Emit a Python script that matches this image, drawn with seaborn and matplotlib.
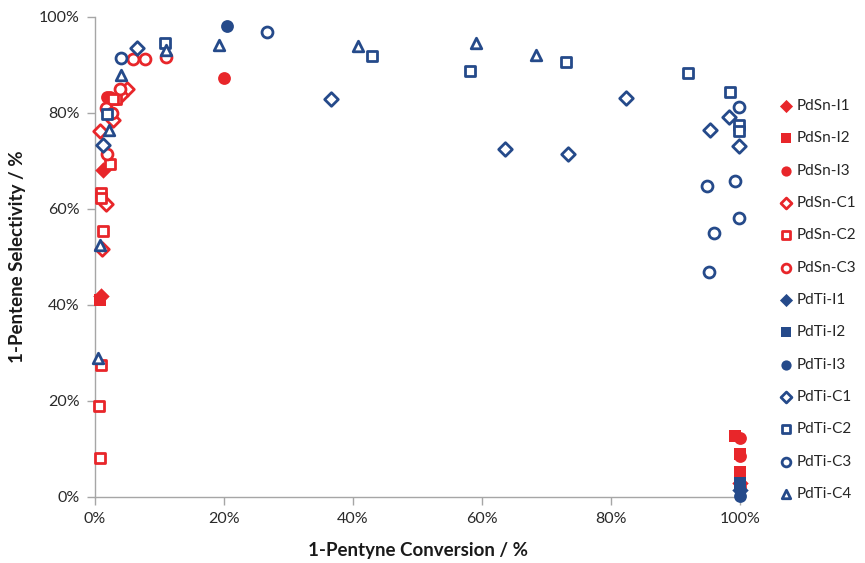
import numpy as np
import pandas as pd
import matplotlib
matplotlib.use("Agg")
import matplotlib.pyplot as plt
from matplotlib.ticker import PercentFormatter
import seaborn as sns

# conversion / selectivity (%)
pdsn_i1_x = [1.2, 1.0, 100.0]
pdsn_i1_y = [68.1, 41.8, 3.0]
pdsn_i2_x = [0.8, 99.3, 100.0, 100.0, 100.0]
pdsn_i2_y = [41.0, 12.8, 9.0, 5.2, 4.0]
pdsn_i3_x = [20.0, 1.8, 2.3, 100.0, 100.0, 100.0]
pdsn_i3_y = [87.2, 83.4, 83.4, 12.2, 8.6, 2.0]
pdsn_c1_x = [4.9, 4.1, 2.8, 0.8, 1.7, 1.1]
pdsn_c1_y = [84.9, 83.7, 78.5, 76.3, 61.0, 51.6]
pdsn_c2_x = [3.3, 2.8, 2.3, 1.0, 1.0, 1.3, 0.9, 0.6, 0.7]
pdsn_c2_y = [82.9, 82.9, 69.4, 63.3, 62.2, 55.5, 27.5, 19.0, 8.1]
pdsn_c3_x = [5.9, 7.8, 11.0, 3.9, 1.7, 2.6, 1.8]
pdsn_c3_y = [91.2, 91.2, 91.7, 85.1, 81.0, 79.9, 71.5]
pdti_i1_x = [100.0]
pdti_i1_y = [1.5]
pdti_i2_x = [100.0]
pdti_i2_y = [3.0]
pdti_i3_x = [20.5, 100.0]
pdti_i3_y = [98.1, 0.3]
pdti_c1_x = [6.5, 1.2, 36.6, 63.6, 73.3, 82.3, 95.4, 98.3, 99.8]
pdti_c1_y = [93.6, 73.3, 82.9, 72.5, 71.4, 83.2, 76.5, 79.2, 73.1]
pdti_c2_x = [10.9, 1.8, 42.9, 58.2, 73.0, 92.0, 98.4, 99.8, 99.8]
pdti_c2_y = [94.5, 79.8, 91.9, 88.8, 90.6, 88.4, 84.4, 77.5, 76.3]
pdti_c3_x = [4.0, 26.6, 99.8, 94.9, 99.2, 99.8, 95.9, 95.2]
pdti_c3_y = [91.4, 96.9, 81.3, 64.8, 65.9, 58.1, 55.1, 46.8]
pdti_c4_x = [11.0, 19.2, 4.1, 2.1, 0.8, 0.5, 40.7, 59.1, 68.4]
pdti_c4_y = [93.1, 94.2, 87.9, 76.5, 52.5, 28.9, 94.0, 94.5, 92.1]

red = "#E8262A"
blue = "#254A8A"

# name, x, y, marker, color, filled
series = [
    ("PdSn-I1", pdsn_i1_x, pdsn_i1_y, "D", red, True),
    ("PdSn-I2", pdsn_i2_x, pdsn_i2_y, "s", red, True),
    ("PdSn-I3", pdsn_i3_x, pdsn_i3_y, "o", red, True),
    ("PdSn-C1", pdsn_c1_x, pdsn_c1_y, "D", red, False),
    ("PdSn-C2", pdsn_c2_x, pdsn_c2_y, "s", red, False),
    ("PdSn-C3", pdsn_c3_x, pdsn_c3_y, "o", red, False),
    ("PdTi-I1", pdti_i1_x, pdti_i1_y, "D", blue, True),
    ("PdTi-I2", pdti_i2_x, pdti_i2_y, "s", blue, True),
    ("PdTi-I3", pdti_i3_x, pdti_i3_y, "o", blue, True),
    ("PdTi-C1", pdti_c1_x, pdti_c1_y, "D", blue, False),
    ("PdTi-C2", pdti_c2_x, pdti_c2_y, "s", blue, False),
    ("PdTi-C3", pdti_c3_x, pdti_c3_y, "o", blue, False),
    ("PdTi-C4", pdti_c4_x, pdti_c4_y, "^", blue, False),
]

sns.set_theme(style="white")
plt.rcParams["font.family"] = ["Lato", "DejaVu Sans"]

fig = plt.figure(figsize=(8.65, 5.63), dpi=100)
ax = fig.add_axes([95 / 865, 1 - 497 / 563, 645 / 865, 480 / 563])

sizes_open = {"D": 48, "s": 58, "o": 62, "^": 58}
sizes_fill = {"D": 70, "s": 80, "o": 85, "^": 80}
for name, xs, ys, mk, col, filled in series:
    df = pd.DataFrame({"conv": xs, "sel": ys})
    sns.scatterplot(data=df, x="conv", y="sel", ax=ax, marker=mk,
                    s=sizes_fill[mk] if filled else sizes_open[mk],
                    color=col, edgecolor=col,
                    facecolor=col if filled else "white",
                    linewidth=0 if filled else 2.0, label=name,
                    clip_on=False, zorder=3)

ax.set_xlim(0, 100)
ax.set_ylim(0, 100)
ax.set_xticks(np.arange(0, 101, 20))
ax.set_yticks(np.arange(0, 101, 20))
ax.xaxis.set_major_formatter(PercentFormatter(100, decimals=0))
ax.yaxis.set_major_formatter(PercentFormatter(100, decimals=0))
ax.tick_params(axis="both", which="major", length=6, width=1, color="#A6A6A6",
               labelsize=11.5, labelcolor="#2a2a2a", direction="out", pad=5,
               bottom=True, left=True)
for side in ["top", "right"]:
    ax.spines[side].set_visible(False)
for side in ["left", "bottom"]:
    ax.spines[side].set_color("#A6A6A6")
    ax.spines[side].set_linewidth(1)

ax.set_xlabel("1-Pentyne Conversion / %", fontsize=13.5, fontweight="bold",
              color="#1a1a1a", labelpad=11)
ax.set_ylabel("1-Pentene Selectivity / %", fontsize=13.5, fontweight="bold",
              color="#1a1a1a", labelpad=9)

handles, labels = ax.get_legend_handles_labels()
ax.legend_.remove()
fig.legend(handles, labels, loc="upper left", bbox_to_anchor=(772 / 865, 1 - 93 / 563),
           frameon=False, fontsize=11, labelspacing=1.2, handletextpad=0.2,
           handlelength=1.0, markerscale=0.8, borderaxespad=0)

fig.savefig("out.png", dpi=100)
